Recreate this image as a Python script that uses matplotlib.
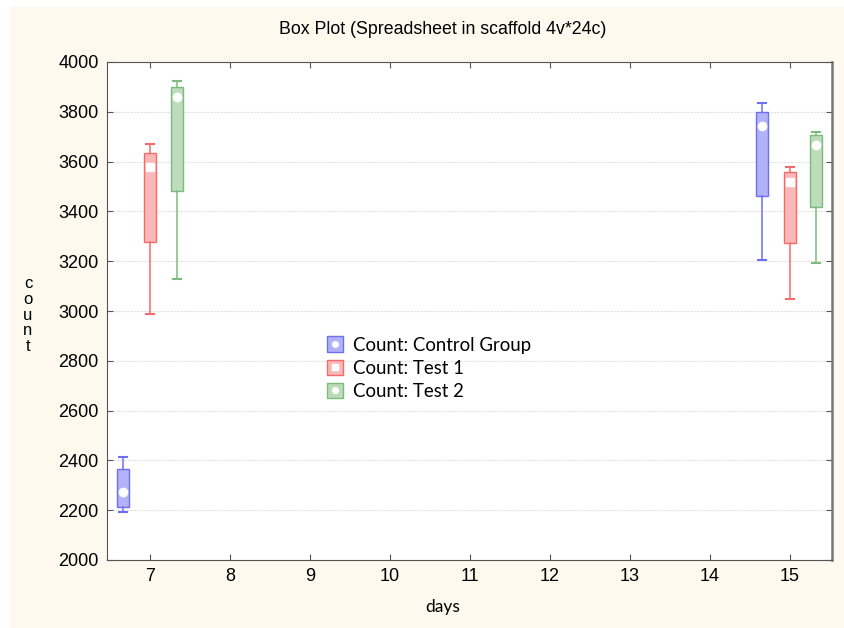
import matplotlib
matplotlib.use('Agg')
import matplotlib.pyplot as plt
import matplotlib.patches as mpatches
from matplotlib.lines import Line2D
from matplotlib.legend_handler import HandlerTuple

# data (days 7 and 15)
days = [7, 15]
groups = ['Count: Control Group', 'Count: Test 1', 'Count: Test 2']
whislo = {'Count: Control Group': [2192, 3205], 'Count: Test 1': [2988, 3048], 'Count: Test 2': [3127, 3194]}
q1 = {'Count: Control Group': [2214, 3463], 'Count: Test 1': [3278, 3274], 'Count: Test 2': [3483, 3416]}
med = {'Count: Control Group': [2274, 3743], 'Count: Test 1': [3580, 3519], 'Count: Test 2': [3861, 3667]}
q3 = {'Count: Control Group': [2364, 3798], 'Count: Test 1': [3633, 3559], 'Count: Test 2': [3901, 3707]}
whishi = {'Count: Control Group': [2414, 3834], 'Count: Test 1': [3671, 3577], 'Count: Test 2': [3924, 3718]}

offsets = [-0.34, 0.0, 0.33]
edge_colors = ['#6f6ff5', '#f46a6a', '#7dbb7d']
fill_colors = ['#b2b2f8', '#fbb8b8', '#bcdcbc']
med_markers = ['o', 's', 'o']

fig = plt.figure(figsize=(8.44, 6.28), dpi=100)
fig.patch.set_facecolor('white')
fig.patches.append(mpatches.Rectangle((10 / 844, 0.0), 1.0, 1 - 7 / 628, transform=fig.transFigure,
                                      facecolor='#fdf9ee', edgecolor='none', zorder=-10))
ax = fig.add_axes([107 / 844, 1 - 560 / 628, 725 / 844, 498 / 628])
ax.set_facecolor('white')

legend_handles = []
for i, g in enumerate(groups):
    stats = []
    for j in range(len(days)):
        stats.append({'whislo': whislo[g][j], 'q1': q1[g][j], 'med': med[g][j],
                      'q3': q3[g][j], 'whishi': whishi[g][j], 'fliers': []})
    pos = [d + offsets[i] for d in days]
    ax.bxp(stats, positions=pos, widths=0.15, patch_artist=True, manage_ticks=False,
           boxprops=dict(facecolor=fill_colors[i], edgecolor=edge_colors[i], linewidth=1.0),
           whiskerprops=dict(color=edge_colors[i], linewidth=1.1),
           capprops=dict(color=edge_colors[i], linewidth=1.5),
           medianprops=dict(linestyle='none'), capwidths=0.1)
    ax.plot(pos, med[g], linestyle='none', marker=med_markers[i], color='white',
            markersize=6, zorder=5)
    h = (mpatches.Patch(facecolor=fill_colors[i], edgecolor=edge_colors[i]),
         Line2D([], [], linestyle='none', marker=med_markers[i], color='white', markersize=4))
    legend_handles.append(h)

ax.set_xlim(6.46, 15.53)
ax.set_ylim(2000, 4000)
ax.set_xticks(range(7, 16))
ax.set_yticks(range(2000, 4001, 200))
ax.yaxis.grid(True, color='#e2e2e2', linestyle=(0, (2, 1)), linewidth=0.8)
ax.set_axisbelow(True)
ax.tick_params(direction='in', length=4, top=True, right=True, color='#555555',
               labelsize=13, pad=6)
for lab in ax.get_xticklabels() + ax.get_yticklabels():
    lab.set_family(['Liberation Sans', 'DejaVu Sans'])
for s in ax.spines.values():
    s.set_color('#555555')
ax.spines['right'].set_linewidth(1.8)
ax.spines['right'].set_color('#777777')

leg = ax.legend(legend_handles, groups, handler_map={tuple: HandlerTuple(ndivide=1)},
                loc='upper left', bbox_to_anchor=(213 / 725, 1 - 329 / 498 + 62 / 498),
                frameon=False, prop={'family': 'Lato', 'size': 13.4},
                handlelength=0.85, handleheight=0.9, handletextpad=0.5, labelspacing=0.32,
                borderaxespad=0)

fig.text(443 / 844, 1 - 30 / 628, 'Box Plot (Spreadsheet in scaffold 4v*24c)',
         ha='center', va='center', fontsize=12.8,
         family=['Liberation Sans', 'DejaVu Sans'])
fig.text(443 / 844, 1 - 607 / 628, 'days', ha='center', va='center', fontsize=12.5, family='Lato')
fig.text(28 / 844, 1 - 315 / 628, 'c\no\nu\nn\nt', ha='center', va='center', fontsize=12,
         linespacing=1.05, family=['Liberation Sans', 'DejaVu Sans'])

fig.savefig('out.png', dpi=100)
